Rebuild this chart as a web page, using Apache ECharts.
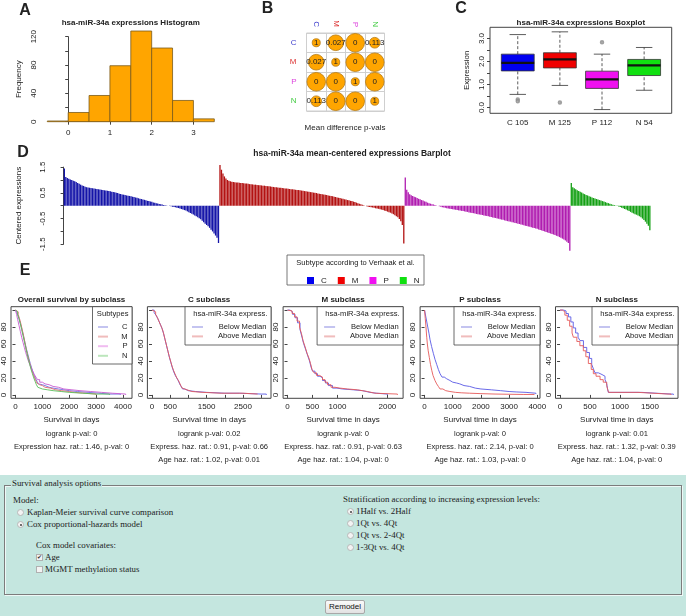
<!DOCTYPE html>
<html>
<head>
<meta charset="utf-8">
<script src="https://cdn.jsdelivr.net/npm/echarts@6/dist/echarts.min.js"></script>
<style>
body{margin:0;background:#fff;}
#chart{position:absolute;left:0;top:0;width:686px;height:475px;}
#opts{position:absolute;left:0;top:475px;width:686px;height:141px;background:#c4e6df;font-family:'Liberation Serif','Times New Roman',serif;font-size:8.9px;color:#222;}
#opts .box{position:absolute;left:4px;top:10px;width:676px;height:108px;border:1px solid #7c7c7c;box-shadow:inset 1px 1px 0 #eef8f6,1px 1px 0 #eef8f6;}
#opts .t{position:absolute;white-space:nowrap;line-height:12px;}
#opts .rd{position:absolute;width:5px;height:5px;border:1px solid #b8b8b8;border-radius:50%;background:#f3f3f3;}
#opts .rd.on::after{content:'';position:absolute;left:1.5px;top:1.5px;width:2px;height:2px;border-radius:50%;background:#444;}
#opts .cb{position:absolute;width:5px;height:5px;border:1px solid #b0b0b0;background:#f3f3f3;}
#opts .cb.on::after{content:'\2714';position:absolute;left:0;top:-3px;font-size:6px;line-height:10px;color:#333;font-family:'DejaVu Sans';}
#opts .btn{position:absolute;left:325px;top:125px;width:38px;height:12px;border:1px solid #a8a8a8;border-radius:2px;background:linear-gradient(#fafafa,#e2e2e2);font-family:'Liberation Sans',Arial,sans-serif;font-size:8px;line-height:12px;text-align:center;color:#111;}
</style>
</head>
<body>
<div id="chart"></div>
<div id="opts">
  <div class="box"></div>
  <span class="t" style="left:11px;top:2px;background:#c4e6df;padding:0 1px;">Survival analysis options</span>
  <span class="t" style="left:13px;top:19px;">Model:</span>
  <span class="rd" style="left:17px;top:34px;"></span>
  <span class="t" style="left:27px;top:31px;">Kaplan-Meier survival curve comparison</span>
  <span class="rd on" style="left:17px;top:46px;"></span>
  <span class="t" style="left:27px;top:43px;">Cox proportional-hazards model</span>
  <span class="t" style="left:36px;top:64px;">Cox model covariates:</span>
  <span class="cb on" style="left:36px;top:79px;"></span>
  <span class="t" style="left:45px;top:76px;">Age</span>
  <span class="cb" style="left:36px;top:91px;"></span>
  <span class="t" style="left:45px;top:88px;">MGMT methylation status</span>
  <span class="t" style="left:343px;top:18px;">Stratification according to increasing expression levels:</span>
  <span class="rd on" style="left:347px;top:33px;"></span>
  <span class="t" style="left:356px;top:30px;">1Half vs. 2Half</span>
  <span class="rd" style="left:347px;top:45px;"></span>
  <span class="t" style="left:356px;top:42px;">1Qt vs. 4Qt</span>
  <span class="rd" style="left:347px;top:57px;"></span>
  <span class="t" style="left:356px;top:54px;">1Qt vs. 2-4Qt</span>
  <span class="rd" style="left:347px;top:69px;"></span>
  <span class="t" style="left:356px;top:66px;">1-3Qt vs. 4Qt</span>
  <div class="btn">Remodel</div>
</div>
<script>
// ---------- data ----------
// A: histogram
var histEdges = [-0.5, 0, 0.5, 1, 1.5, 2, 2.5, 3, 3.5];
var histCounts = [1, 13, 37, 79, 128, 104, 30, 4];

// B: mean difference p-values (rows/cols C, M, P, N)
var subtypes = ['C', 'M', 'P', 'N'];
var pvalRows = [
  [1, 0.027, 0, 0.113],
  [0.027, 1, 0, 0],
  [0, 0, 1, 0],
  [0.113, 0, 0, 1]
];

// C: boxplot  [low whisker, Q1, median, Q3, high whisker]
var boxCats = ['C 105', 'M 125', 'P 112', 'N 54'];
var boxStats = [
  [0.57, 1.59, 1.94, 2.32, 3.17],
  [0.96, 1.72, 2.09, 2.38, 3.29],
  [-0.09, 0.83, 1.22, 1.58, 2.32],
  [0.75, 1.39, 1.83, 2.09, 2.61]
];
var boxOutliers = [[0, 0.35], [0, 0.27], [1, 0.22], [2, 2.84]];

// D: mean-centered expressions, sorted per subtype
var centC = [1.45,1.12,1.08,1.05,1.02,1.00,0.97,0.95,0.92,0.88,
  0.85,0.82,0.79,0.77,0.74,0.72,0.71,0.70,0.69,0.68,
  0.67,0.66,0.65,0.64,0.63,0.62,0.61,0.60,0.59,0.58,
  0.57,0.56,0.54,0.53,0.52,0.50,0.49,0.47,0.46,0.44,
  0.43,0.42,0.40,0.39,0.38,0.37,0.35,0.34,0.32,0.31,
  0.29,0.27,0.26,0.24,0.23,0.21,0.19,0.18,0.16,0.15,
  0.13,0.12,0.10,0.09,0.07,0.06,0.05,0.03,0.02,0.01,
  0.00,-0.01,-0.02,-0.04,-0.05,-0.06,-0.08,-0.09,-0.11,-0.13,
  -0.15,-0.17,-0.19,-0.22,-0.25,-0.28,-0.31,-0.34,-0.38,-0.41,
  -0.45,-0.49,-0.53,-0.58,-0.64,-0.70,-0.75,-0.80,-0.86,-0.93,
  -1.00,-1.08,-1.16,-1.25,-1.45];
var centM = [1.58,1.40,1.25,1.14,1.06,1.00,0.97,0.95,0.93,0.92,
  0.91,0.90,0.90,0.89,0.88,0.88,0.87,0.86,0.86,0.85,
  0.84,0.84,0.83,0.82,0.82,0.81,0.80,0.80,0.79,0.78,
  0.78,0.77,0.76,0.76,0.75,0.74,0.73,0.72,0.72,0.71,
  0.70,0.70,0.69,0.68,0.67,0.67,0.66,0.65,0.64,0.64,
  0.63,0.62,0.61,0.61,0.60,0.59,0.58,0.57,0.56,0.55,
  0.54,0.53,0.52,0.51,0.50,0.49,0.48,0.47,0.46,0.45,
  0.44,0.43,0.42,0.40,0.39,0.38,0.37,0.35,0.34,0.32,
  0.31,0.30,0.28,0.27,0.25,0.24,0.22,0.21,0.19,0.18,
  0.16,0.14,0.12,0.10,0.08,0.06,0.04,0.02,0.00,-0.02,
  -0.04,-0.05,-0.06,-0.07,-0.08,-0.10,-0.11,-0.12,-0.14,-0.15,
  -0.17,-0.19,-0.21,-0.23,-0.25,-0.27,-0.30,-0.33,-0.37,-0.41,
  -0.45,-0.52,-0.60,-0.75,-1.47];
var centP = [1.10,0.62,0.52,0.45,0.41,0.38,0.35,0.33,0.30,0.27,
  0.25,0.22,0.20,0.17,0.15,0.12,0.10,0.08,0.06,0.05,
  0.03,0.01,0.00,-0.02,-0.04,-0.06,-0.07,-0.08,-0.10,-0.11,
  -0.12,-0.13,-0.14,-0.15,-0.16,-0.17,-0.18,-0.19,-0.20,-0.21,
  -0.22,-0.23,-0.24,-0.26,-0.27,-0.28,-0.29,-0.30,-0.32,-0.33,
  -0.34,-0.35,-0.36,-0.38,-0.39,-0.40,-0.41,-0.43,-0.44,-0.46,
  -0.47,-0.48,-0.50,-0.51,-0.53,-0.54,-0.55,-0.57,-0.58,-0.60,
  -0.61,-0.62,-0.64,-0.65,-0.67,-0.68,-0.70,-0.71,-0.73,-0.74,
  -0.76,-0.78,-0.79,-0.81,-0.82,-0.84,-0.86,-0.87,-0.89,-0.90,
  -0.92,-0.94,-0.96,-0.98,-1.00,-1.02,-1.04,-1.06,-1.08,-1.10,
  -1.12,-1.14,-1.17,-1.19,-1.22,-1.25,-1.28,-1.31,-1.35,-1.40,
  -1.45,-1.75];
var centN = [0.88,0.72,0.68,0.64,0.60,0.57,0.54,0.51,0.48,0.45,
  0.42,0.40,0.37,0.35,0.32,0.30,0.28,0.26,0.24,0.22,
  0.20,0.18,0.16,0.14,0.12,0.10,0.08,0.06,0.04,0.03,
  0.01,-0.01,-0.03,-0.05,-0.08,-0.10,-0.13,-0.15,-0.18,-0.21,
  -0.24,-0.27,-0.30,-0.33,-0.35,-0.38,-0.41,-0.45,-0.50,-0.56,
  -0.62,-0.70,-0.78,-0.95];

// E: Kaplan-Meier curves [day, % surviving]
var kmAllC = [[0,100],[50,97],[100,93],[150,88],[200,82],[250,76],[300,69],[350,62],[400,55],[450,49],[500,43],[550,37],[600,32],[650,27],[700,23],[750,19],[800,16],[850,13],[900,12],[1000,11],[1100,9],[1250,8],[1400,7],[1600,6],[1800,5],[2000,4],[2300,3],[2700,2],[3100,1],[3500,1],[3900,0]];
var kmAllM = [[0,100],[50,98],[100,95],[150,90],[200,84],[250,77],[300,70],[350,62],[400,54],[450,47],[500,41],[550,35],[600,30],[650,25],[700,21],[750,17],[800,14],[850,12],[900,11],[1000,9],[1100,8],[1300,6],[1500,5],[1700,4],[2000,3],[2200,2],[2600,1],[3000,0]];
var kmAllP = [[0,100],[40,95],[80,89],[130,82],[180,75],[230,68],[280,62],[330,56],[380,50],[430,45],[480,40],[530,36],[580,32],[640,28],[700,24],[760,21],[820,18],[900,15],[1000,13],[1100,12],[1250,10],[1400,9],[1600,7],[1800,6],[2100,5],[2400,4],[2800,3],[3200,2],[3600,1],[4100,0]];
var kmAllN = [[0,100],[40,98],[80,95],[130,90],[180,84],[230,77],[280,70],[330,63],[380,56],[430,49],[480,42],[530,36],[580,30],[630,25],[680,20],[730,16],[780,12],[830,9],[900,7],[1000,6],[1200,5],[1400,4],[1700,3],[2000,2],[2500,1],[3000,1],[3500,0]];
var kmCBelow = [[0,100],[60,97],[110,94],[160,90],[200,86],[240,82],[280,78],[320,72],[360,65],[400,58],[440,51],[480,44],[520,38],[560,32],[600,27],[640,23],[680,20],[720,17],[760,13],[800,10],[840,7],[900,5],[1000,4],[1200,3],[1500,2],[2000,2],[2400,1],[3000,1],[3140,0]];
var kmCAbove = [[0,100],[50,98],[100,95],[150,91],[190,87],[230,83],[270,79],[310,74],[350,67],[390,60],[430,53],[470,46],[510,40],[550,34],[590,29],[630,25],[670,21],[710,18],[750,15],[790,11],[830,8],[880,6],[960,4],[1100,3],[1400,2],[1900,2],[2500,1],[2900,1]];
var kmMBelow = [[0,100],[50,98],[100,95],[150,91],[200,85],[250,77],[290,68],[320,61],[360,54],[400,47],[440,40],[470,33],[500,28],[550,25],[600,22],[650,20],[700,17],[760,14],[820,11],[900,8],[990,7],[1100,6],[1320,5],[1500,3],[1650,2],[1780,1],[2000,0]];
var kmMAbove = [[0,100],[40,99],[90,96],[140,92],[190,87],[240,80],[280,72],[310,64],[350,57],[390,49],[430,43],[460,37],[490,30],[530,26],[580,23],[640,21],[700,18],[750,15],[800,12],[870,9],[950,8],[1050,7],[1200,6],[1400,4],[1600,2],[1750,1],[2200,0]];
var kmPBelow = [[0,100],[40,93],[80,86],[120,79],[160,72],[195,65],[250,57],[312,49],[370,42],[430,36],[490,30],[550,25],[620,21],[700,19],[785,17],[900,15],[1000,14],[1140,13],[1250,11],[1400,10],[1600,8],[1800,7],[2000,6],[2370,5],[2700,4],[3000,3.5],[3250,3],[3600,2],[3950,1]];
var kmPAbove = [[0,100],[25,90],[50,80],[77,68],[100,60],[130,52],[170,44],[210,36],[255,29],[300,23],[370,17],[430,13],[490,10],[550,7],[650,5],[750,4],[900,3],[1100,2.5],[1300,2],[1600,1.5],[2000,1],[2500,0.5],[3500,0.5],[3900,0]];
var kmNBelow = [[0,100],[60,99],[100,96],[140,92],[180,86],[220,79],[260,73],[300,68],[333,64],[390,56],[445,50],[490,43],[528,36],[560,30],[583,26],[640,24],[700,22],[750,18],[778,13],[790,8],[805,3],[1000,3],[1361,3],[1380,1],[1850,1],[1890,0]];
var kmNAbove = [[0,100],[40,98],[80,94],[120,88],[160,81],[200,73],[222,68],[280,63],[330,58],[388,52],[430,45],[472,37],[520,30],[555,25],[600,22],[667,18],[720,15],[778,11],[795,6],[810,3],[1300,3],[1330,1],[1800,1],[1850,0]];

var statLines = [
  ['logrank p-val: 0', 'Expression haz. rat.: 1.46, p-val: 0'],
  ['logrank p-val: 0.02', 'Express. haz. rat.: 0.91, p-val: 0.66', 'Age haz. rat.: 1.02, p-val: 0.01'],
  ['logrank p-val: 0', 'Express. haz. rat.: 0.91, p-val: 0.63', 'Age haz. rat.: 1.04, p-val: 0'],
  ['logrank p-val: 0', 'Express. haz. rat.: 2.14, p-val: 0', 'Age haz. rat.: 1.03, p-val: 0'],
  ['logrank p-val: 0.01', 'Express. haz. rat.: 1.32, p-val: 0.39', 'Age haz. rat.: 1.04, p-val: 0']
];

// ---------- styling ----------
var FONT = 'Liberation Sans';
var AX = '#444';
var TXT = '#222';
var subColors = ['#3d3dcc', '#dd3333', '#dd44dd', '#44cc44'];
var boxColors = ['#0000f0', '#f00000', '#f010f0', '#10e010'];
var barColors = ['#1414a8', '#b31212', '#b01cb0', '#14a014'];
var plain = function (v) { return String(v); };

var chart = echarts.init(document.getElementById('chart'));

function txt(x, y, s, size, bold, align, color) {
  return {type: 'text', x: x, y: y, z: 50, style: {text: s, fontFamily: FONT, fontSize: size, fontWeight: bold ? 'bold' : 'normal',
    fill: color || TXT, align: align || 'center', verticalAlign: 'middle'}};
}

var grids = [], xAxes = [], yAxes = [], series = [], graphics = [];

// ---- A: histogram ----
grids.push({left: 68.2, top: 36.7, width: 125.25, height: 85});
grids.push({left: 47.3, top: 29.6, width: 167, height: 92.1});
xAxes.push({gridIndex: 0, type: 'value', min: 0, max: 3, interval: 1, offset: 3,
  axisLine: {show: true, lineStyle: {color: AX}}, axisTick: {length: 3, lineStyle: {color: AX}},
  axisLabel: {fontSize: 8, color: TXT, margin: 4}, splitLine: {show: false}});
yAxes.push({gridIndex: 0, type: 'value', min: 0, max: 120, interval: 20, offset: 27.6,
  axisLine: {show: true, lineStyle: {color: AX}}, axisTick: {show: true, length: 3, lineStyle: {color: AX}},
  axisLabel: {fontSize: 8, color: TXT, rotate: 90, margin: 3, formatter: function (v) { return v % 40 === 0 ? v : ''; }},
  splitLine: {show: false}, name: 'Frequency', nameLocation: 'middle', nameGap: 18, nameRotate: 90,
  nameTextStyle: {fontSize: 8, color: TXT}});
xAxes.push({gridIndex: 1, type: 'value', min: -0.5, max: 3.5, show: false});
yAxes.push({gridIndex: 1, type: 'value', min: 0, max: 130, show: false});
series.push({type: 'custom', xAxisIndex: 1, yAxisIndex: 1,
  data: histCounts.map(function (c, i) { return [histEdges[i], histEdges[i + 1], c]; }),
  encode: {x: [0, 1], y: 2},
  renderItem: function (params, api) {
    var a = api.coord([api.value(0), api.value(2)]);
    var b = api.coord([api.value(1), 0]);
    return {type: 'rect', shape: {x: a[0], y: a[1], width: b[0] - a[0], height: b[1] - a[1]},
      style: {fill: '#ffa500', stroke: '#7a5a1a', lineWidth: 0.8}};
  }});

// ---- B: p-value matrix ----
grids.push({left: 306.5, top: 33, width: 78, height: 78, show: true, borderColor: '#cfcfcf', borderWidth: 1, backgroundColor: 'transparent'});
xAxes.push({gridIndex: 2, type: 'category', data: subtypes, position: 'top',
  axisLine: {show: false}, axisTick: {show: false},
  axisLabel: {rotate: 90, margin: 6, fontSize: 8, color: function (v, i) { return subColors[i]; }},
  splitLine: {show: true, lineStyle: {color: '#cfcfcf'}}});
yAxes.push({gridIndex: 2, type: 'category', data: subtypes, inverse: true,
  axisLine: {show: false}, axisTick: {show: false},
  axisLabel: {margin: 10, fontSize: 8, color: function (v, i) { return subColors[i]; }},
  splitLine: {show: true, lineStyle: {color: '#cfcfcf'}}});
var pvalData = [];
pvalRows.forEach(function (row, r) { row.forEach(function (p, c) { pvalData.push([c, r, p]); }); });
series.push({type: 'scatter', xAxisIndex: 2, yAxisIndex: 2, data: pvalData,
  symbolSize: function (v) { return 8 + 10.6 * Math.exp(-v[2] * 12); },
  itemStyle: {color: '#ffa500', borderColor: '#b67a10', borderWidth: 0.8, opacity: 1},
  label: {show: true, position: 'inside', fontSize: 8, color: '#222', formatter: function (p) { return String(p.value[2]); }}});
graphics.push(txt(345, 128, 'Mean difference p-vals', 8));

// ---- C: boxplot ----
grids.push({left: 490, top: 27.3, width: 181.7, height: 86, show: true, borderColor: AX, borderWidth: 1, backgroundColor: 'transparent'});
grids.push({left: 496.7, top: 27.3, width: 168.5, height: 86});
xAxes.push({gridIndex: 3, type: 'value', min: 0, max: 1, show: false});
yAxes.push({gridIndex: 3, type: 'value', min: -0.252, max: 3.487,
  axisLine: {show: false}, axisTick: {show: true, length: 3, customValues: [0, 0.5, 1, 1.5, 2, 2.5, 3], lineStyle: {color: AX}},
  axisLabel: {customValues: [0, 1, 2, 3], fontSize: 8, color: TXT, rotate: 90, margin: 4, formatter: function (v) { return v.toFixed(1); }},
  splitLine: {show: false}, name: 'Expression', nameLocation: 'middle', nameGap: 19, nameRotate: 90,
  nameTextStyle: {fontSize: 8, color: TXT}});
xAxes.push({gridIndex: 4, type: 'category', data: boxCats, axisLine: {show: false}, axisTick: {show: false},
  axisLabel: {fontSize: 8, color: TXT, margin: 5}});
yAxes.push({gridIndex: 4, type: 'value', min: -0.252, max: 3.487, show: false});
series.push({type: 'custom', xAxisIndex: 4, yAxisIndex: 4,
  data: boxStats.map(function (s, i) { return [i].concat(s); }),
  encode: {x: 0, y: [1, 2, 3, 4, 5]},
  renderItem: function (params, api) {
    var i = api.value(0);
    var band = api.size([1, 0])[0];
    var bw = band * 0.78, cw = bw * 0.5;
    var x = api.coord([i, 0])[0];
    var yy = [1, 2, 3, 4, 5].map(function (d) { return api.coord([i, api.value(d)])[1]; });
    var dash = {stroke: '#333', lineWidth: 0.8, lineDash: [3, 2]};
    var solid = {stroke: '#333', lineWidth: 0.8};
    return {type: 'group', children: [
      {type: 'line', shape: {x1: x, y1: yy[0], x2: x, y2: yy[1]}, style: dash},
      {type: 'line', shape: {x1: x, y1: yy[3], x2: x, y2: yy[4]}, style: dash},
      {type: 'line', shape: {x1: x - cw / 2, y1: yy[0], x2: x + cw / 2, y2: yy[0]}, style: solid},
      {type: 'line', shape: {x1: x - cw / 2, y1: yy[4], x2: x + cw / 2, y2: yy[4]}, style: solid},
      {type: 'rect', shape: {x: x - bw / 2, y: yy[3], width: bw, height: yy[1] - yy[3]}, style: {fill: boxColors[i], stroke: '#333', lineWidth: 0.8}},
      {type: 'line', shape: {x1: x - bw / 2, y1: yy[2], x2: x + bw / 2, y2: yy[2]}, style: {stroke: '#111', lineWidth: 2.2}}
    ]};
  }});
series.push({type: 'scatter', xAxisIndex: 4, yAxisIndex: 4, data: boxOutliers, symbol: 'emptyCircle', symbolSize: 2.5,
  itemStyle: {color: '#888', borderColor: '#888'}});

// ---- D: mean-centered barplot ----
grids.push({left: 63.6, top: 167.1, width: 587, height: 77.1});
grids.push({left: 63.6, top: 163.3, width: 587, height: 88.7});
xAxes.push({gridIndex: 5, type: 'value', min: 0, max: 1, show: false});
yAxes.push({gridIndex: 5, type: 'value', min: -1.5, max: 1.5, interval: 0.5, offset: 13.6,
  axisLine: {show: true, lineStyle: {color: AX}}, axisTick: {show: true, length: 3, lineStyle: {color: AX}},
  axisLabel: {fontSize: 8, color: TXT, rotate: 90, margin: 3,
    formatter: function (v) { return Math.abs(Math.round(v * 2)) % 2 === 1 ? String(v) : ''; }},
  splitLine: {show: false}, name: 'Centered expressions', nameLocation: 'middle', nameGap: 27, nameRotate: 90,
  nameTextStyle: {fontSize: 8, color: TXT}});
var groups = [centC, centM, centP, centN];
var nBars = centC.length + centM.length + centP.length + centN.length;
var dCats = [];
for (var k = 0; k < nBars; k++) dCats.push(k);
xAxes.push({gridIndex: 6, type: 'category', data: dCats, show: false});
yAxes.push({gridIndex: 6, type: 'value', min: -1.8, max: 1.65, show: false});
var start = 0;
groups.forEach(function (g, gi) {
  var arr = [];
  for (var j = 0; j < nBars; j++) arr.push('-');
  g.forEach(function (v, j) { arr[start + j] = v; });
  start += g.length;
  series.push({type: 'bar', name: subtypes[gi], xAxisIndex: 6, yAxisIndex: 6, data: arr,
    barGap: '-100%', barCategoryGap: '12%', itemStyle: {color: barColors[gi]}});
});
graphics.push({type: 'rect', shape: {x: 287, y: 255, width: 137, height: 30}, style: {fill: '#fff', stroke: '#555', lineWidth: 0.8}, z: 40});
graphics.push(txt(355.5, 263, 'Subtype according to Verhaak et al.', 7.5));

// ---- E: survival plots ----
var eDefs = [
  {left: 11, width: 121, min: -167, max: 4335, ticks: [0, 1000, 2000, 3000, 4000], labels: [0, 1000, 2000, 3000, 4000],
    title: 'Overall survival by subclass', xname: 'Survival in days',
    curves: [[kmAllC, 'rgba(110,110,225,0.9)'], [kmAllM, 'rgba(225,110,110,0.9)'], [kmAllP, 'rgba(200,90,210,0.9)'], [kmAllN, 'rgba(90,190,90,0.9)']]},
  {left: 147.4, width: 123.6, min: -126, max: 3269, ticks: [0, 500, 1000, 1500, 2000, 2500, 3000], labels: [0, 500, 1500, 2500],
    title: 'C subclass', xname: 'Survival time in days', curves: [[kmCBelow, 'rgba(90,90,230,0.9)'], [kmCAbove, 'rgba(230,90,90,0.9)']]},
  {left: 283.1, width: 120, min: -89, max: 2314, ticks: [0, 500, 1000, 1500, 2000], labels: [0, 500, 1000, 2000],
    title: 'M subclass', xname: 'Survival time in days', curves: [[kmMBelow, 'rgba(90,90,230,0.9)'], [kmMAbove, 'rgba(230,90,90,0.9)']]},
  {left: 420.1, width: 119.9, min: -158, max: 4096, ticks: [0, 1000, 2000, 3000, 4000], labels: [0, 1000, 2000, 3000, 4000],
    title: 'P subclass', xname: 'Survival time in days', curves: [[kmPBelow, 'rgba(90,90,230,0.9)'], [kmPAbove, 'rgba(230,90,90,0.9)']]},
  {left: 555.5, width: 122.5, min: -76, max: 1967, ticks: [0, 500, 1000, 1500], labels: [0, 500, 1000, 1500],
    title: 'N subclass', xname: 'Survival time in days', curves: [[kmNBelow, 'rgba(90,90,230,0.9)'], [kmNAbove, 'rgba(230,90,90,0.9)']]}
];
var eTop = 306.7, eH = 91.6;
eDefs.forEach(function (d, e) {
  var gi = grids.length;
  grids.push({left: d.left, top: eTop, width: d.width, height: eH, show: true, borderColor: AX, borderWidth: 1, backgroundColor: 'transparent'});
  xAxes.push({gridIndex: gi, type: 'value', min: d.min, max: d.max,
    axisLine: {show: false}, axisTick: {show: true, length: 3, customValues: d.ticks, lineStyle: {color: AX}},
    axisLabel: {customValues: d.labels, fontSize: 8, color: TXT, margin: 4, formatter: plain}, splitLine: {show: false},
    name: d.xname, nameLocation: 'middle', nameGap: 17, nameTextStyle: {fontSize: 8, color: TXT}});
  yAxes.push({gridIndex: gi, type: 'value', min: -4, max: 104,
    axisLine: {show: false}, axisTick: {show: true, length: 3, customValues: [0, 20, 40, 60, 80, 100], lineStyle: {color: AX}},
    axisLabel: {customValues: [0, 20, 40, 60, 80], fontSize: 8, color: TXT, rotate: 90, margin: 3, formatter: plain}, splitLine: {show: false}});
  d.curves.forEach(function (c, ci) {
    series.push({type: 'line', name: 'km' + e + '_' + ci, xAxisIndex: gi, yAxisIndex: gi, data: c[0], step: 'end',
      showSymbol: false, symbol: 'none', lineStyle: {color: c[1], width: 1}, itemStyle: {color: c[1]}});
  });
  var cx = d.left + d.width / 2;
  graphics.push(txt(cx, 299.5, d.title, 8, true));
  statLines[e].forEach(function (s, li) { graphics.push(txt(cx, 433.5 + li * 13.3, s, 7.6)); });
  var right = d.left + d.width;
  if (e === 0) {
    graphics.push({type: 'rect', shape: {x: right - 39.5, y: eTop, width: 39.5, height: 57.3}, style: {fill: '#fff', stroke: AX, lineWidth: 0.8}, z: 40});
    graphics.push(txt(right - 3.5, 314, 'Subtypes', 7.6, false, 'right'));
    var lc = ['#c4c4f0', '#f0bcbc', '#f0bcf0', '#bce6bc'];
    subtypes.forEach(function (s, si) {
      var y = 327 + si * 9.6;
      graphics.push({type: 'line', shape: {x1: right - 34, y1: y, x2: right - 24, y2: y}, style: {stroke: lc[si], lineWidth: 2}, z: 45});
      graphics.push(txt(right - 4.5, y, s, 7.6, false, 'right'));
    });
  } else {
    graphics.push({type: 'rect', shape: {x: right - 86, y: eTop, width: 86, height: 38.3}, style: {fill: '#fff', stroke: AX, lineWidth: 0.8}, z: 40});
    graphics.push(txt(right - 3.5, 314, 'hsa-miR-34a express.', 7.6, false, 'right'));
    [['Below Median', '#c4c4f0'], ['Above Median', '#f0bcbc']].forEach(function (it, ii) {
      var y = 327 + ii * 9.4;
      graphics.push({type: 'line', shape: {x1: right - 79, y1: y, x2: right - 68, y2: y}, style: {stroke: it[1], lineWidth: 2}, z: 45});
      graphics.push(txt(right - 4.5, y, it[0], 7.6, false, 'right'));
    });
  }
});

// panel letters and titles
graphics.push(txt(25, 10.5, 'A', 16, true));
graphics.push(txt(267.5, 8.5, 'B', 16, true));
graphics.push(txt(461, 9, 'C', 16, true));
graphics.push(txt(23, 152.5, 'D', 16, true));
graphics.push(txt(25, 271, 'E', 16, true));
graphics.push(txt(130.8, 22.5, 'hsa-miR-34a expressions Histogram', 8, true));
graphics.push(txt(580.8, 22.5, 'hsa-miR-34a expressions Boxplot', 8, true));
graphics.push(txt(352, 154, 'hsa-miR-34a mean-centered expressions Barplot', 8.5, true));
grids.forEach(function (g) { g.outerBoundsMode = 'none'; });

chart.setOption({
  animation: false,
  backgroundColor: '#fff',
  textStyle: {fontFamily: FONT},
  grid: grids,
  xAxis: xAxes,
  yAxis: yAxes,
  legend: [{
    data: subtypes.map(function (s, i) { return {name: s, itemStyle: {color: boxColors[i]}}; }),
    left: 302, top: 271.5, icon: 'rect', itemWidth: 7, itemHeight: 7, itemGap: 11, selectedMode: false, z: 45,
    textStyle: {fontSize: 8, color: TXT, padding: [0, 0, 0, 2]}
  }],
  series: series,
  graphic: graphics
});
</script>
</body>
</html>
